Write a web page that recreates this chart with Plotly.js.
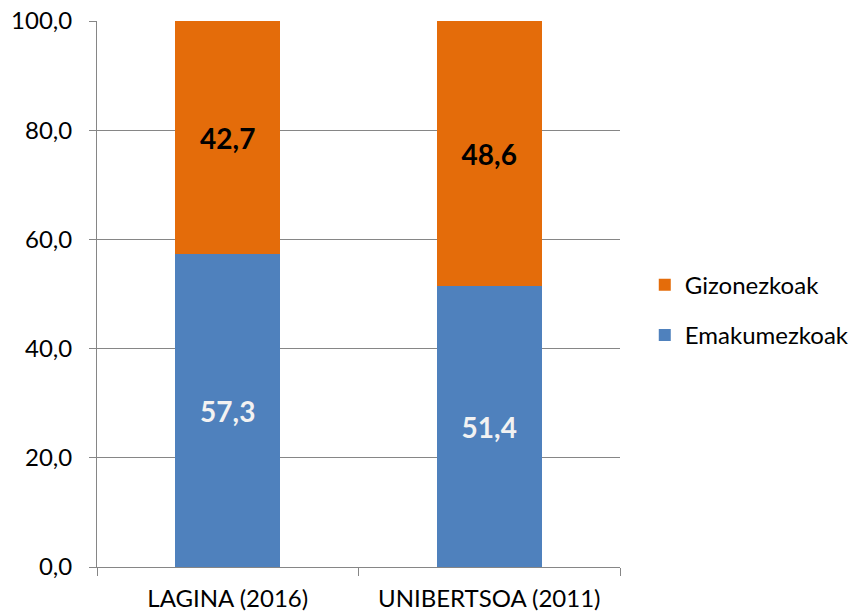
<!DOCTYPE html>
<html>
<head>
<meta charset="utf-8">
<script src="https://cdn.plot.ly/plotly-3.0.1.min.js"></script>
<style>
  html, body { margin: 0; padding: 0; background: #fff; }
  #plot { width: 854px; height: 613px; }
</style>
</head>
<body>
<div id="plot"></div>
<script>
// Data
const categories = ["LAGINA (2016)", "UNIBERTSOA (2011)"];
const emakumezkoak = [57.3, 51.4];
const gizonezkoak = [42.7, 48.6];

const fontFamily = "Lato, Open Sans, sans-serif";
const gridGrey = "#868686";

Plotly.newPlot("plot", [
    {
        type: "bar",
        name: "Emakumezkoak",
        legendgroup: "a",
        legendrank: 2,
        x: categories,
        y: emakumezkoak,
        marker: {color: "#4F81BD"},
        texttemplate: "%{y:.1f}",
        textposition: "inside",
        insidetextanchor: "middle",
        textfont: {family: fontFamily, size: 28, color: "#F2F2F2", weight: "bold"},
        hoverinfo: "none"
    },
    {
        type: "bar",
        name: "Gizonezkoak",
        legendgroup: "b",
        legendrank: 1,
        x: categories,
        y: gizonezkoak,
        marker: {color: "#E46C0A"},
        texttemplate: "%{y:.1f}",
        textposition: "inside",
        insidetextanchor: "middle",
        textfont: {family: fontFamily, size: 28, color: "#000000", weight: "bold"},
        hoverinfo: "none"
    }
], {
    width: 854,
    height: 613,
    barmode: "stack",
    bargap: 0.6,
    separators: ",.",
    paper_bgcolor: "#ffffff",
    plot_bgcolor: "#ffffff",
    font: {family: fontFamily, size: 24, color: "#000000"},
    margin: {l: 97, r: 234, t: 21, b: 46},
    xaxis: {
        type: "category",
        showline: true,
        linecolor: gridGrey,
        linewidth: 1,
        ticks: "outside",
        tickson: "boundaries",
        ticklen: 8,
        tickcolor: gridGrey,
        showgrid: false,
        ticklabelstandoff: 10,
        automargin: false,
        tickfont: {size: 24}
    },
    yaxis: {
        range: [0, 100],
        dtick: 20,
        tickformat: ".1f",
        showline: true,
        linecolor: gridGrey,
        linewidth: 1,
        ticks: "outside",
        ticklen: 7,
        tickcolor: gridGrey,
        showgrid: true,
        gridcolor: gridGrey,
        gridwidth: 1,
        zeroline: false,
        ticklabelstandoff: 12,
        automargin: false,
        tickfont: {size: 24}
    },
    showlegend: true,
    legend: {
        xref: "container",
        yref: "container",
        x: 0.755,
        xanchor: "left",
        y: 0.494,
        yanchor: "middle",
        traceorder: "grouped",
        tracegroupgap: 16,
        font: {size: 24},
        bgcolor: "rgba(0,0,0,0)"
    }
}, {displayModeBar: false, staticPlot: true});
</script>
</body>
</html>
